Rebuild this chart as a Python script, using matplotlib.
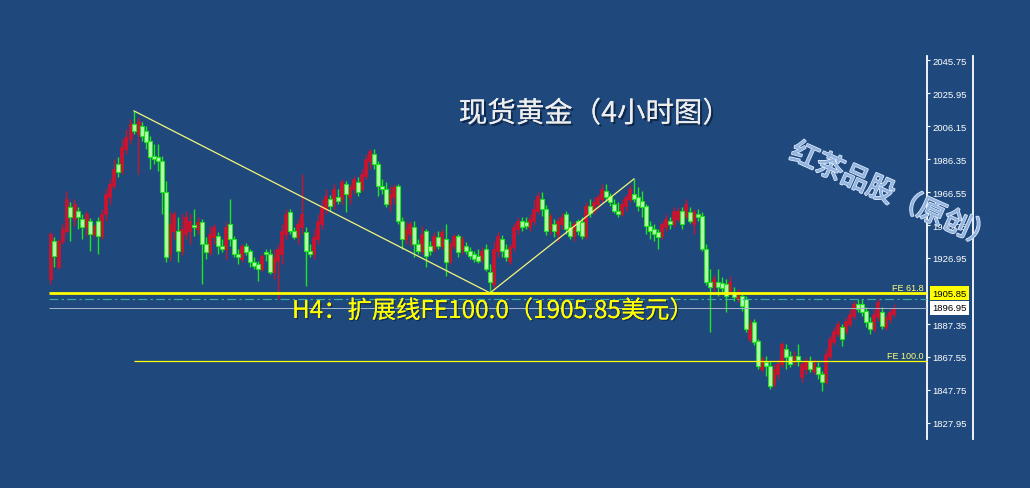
import numpy as np
import matplotlib.pyplot as plt
from matplotlib import patheffects as pe
from matplotlib.lines import Line2D
from matplotlib.transforms import blended_transform_factory

plt.rcParams['font.family'] = ['Noto Sans CJK SC', 'DejaVu Sans']

# 4-hour gold candles (price values)
opens = [
    1914.4, 1937.2, 1921.6, 1937.2, 1943.2, 1957.6, 1950.4, 1955.2, 1950.4, 1945.6,
    1949.2, 1941.4, 1949.2, 1940.2, 1953.4, 1963.6, 1970.2, 1983.4, 1979.2, 1992.4,
    1998.4, 2007.4, 2001.4, 2006.2, 2003.2, 1997.2, 1988.2, 1987.6, 1985.2, 1966.6,
    1929.4, 1943.2, 1943.2, 1931.2, 1941.4, 1943.2, 1946.8, 1944.4, 1948.6, 1935.4,
    1930.6, 1939.6, 1940.2, 1934.2, 1932.4, 1947.4, 1938.4, 1929.4, 1926.4, 1934.2,
    1931.2, 1924.6, 1923.4, 1920.4, 1930.6, 1929.4, 1918.6, 1925.2, 1929.4, 1941.4,
    1954.6, 1943.2, 1939.6, 1945.6, 1942.6, 1931.2, 1929.4, 1938.4, 1947.4, 1956.4,
    1962.4, 1959.4, 1963.6, 1962.4, 1971.4, 1963.6, 1968.4, 1972.6, 1968.4, 1976.2,
    1985.2, 1989.4, 1983.4, 1970.2, 1968.4, 1959.4, 1963.6, 1970.2, 1949.2, 1938.4,
    1941.4, 1945.6, 1935.4, 1931.2, 1943.2, 1934.2, 1932.4, 1939.6, 1934.2, 1938.4,
    1925.2, 1934.2, 1940.2, 1932.4, 1934.2, 1931.2, 1929.4, 1928.2, 1926.4, 1932.4,
    1918.6, 1911.4, 1931.2, 1938.4, 1932.4, 1925.2, 1933.6, 1944.4, 1949.2, 1948.6,
    1945.6, 1949.2, 1955.2, 1962.4, 1956.4, 1944.4, 1947.4, 1941.4, 1947.4, 1953.4,
    1945.6, 1940.2, 1949.2, 1948.6, 1940.2, 1958.2, 1955.2, 1959.4, 1962.4, 1967.2,
    1964.2, 1959.4, 1955.2, 1953.4, 1958.2, 1962.4, 1965.4, 1963.6, 1961.2, 1958.2,
    1946.2, 1944.4, 1942.6, 1940.2, 1945.6, 1949.2, 1947.4, 1950.4, 1955.2, 1952.2,
    1954.6, 1947.4, 1953.4, 1952.2, 1932.4, 1912.6, 1910.2, 1912.6, 1912.0, 1911.4,
    1906.6, 1906.6, 1902.4, 1904.2, 1902.4, 1878.4, 1888.6, 1877.2, 1860.4, 1864.6,
    1862.2, 1851.4, 1857.4, 1863.4, 1872.4, 1868.2, 1865.2, 1868.2, 1855.6, 1860.4,
    1865.2, 1859.2, 1861.6, 1857.4, 1852.6, 1868.2, 1876.6, 1881.4, 1885.6, 1883.2,
    1887.4, 1892.2, 1899.4, 1899.4, 1895.2, 1888.6, 1884.4, 1891.6, 1894.6, 1885.6,
    1890.4, 1893.4,
]
highs = [
    1942.6, 1939.6, 1938.4, 1947.4, 1967.2, 1960.6, 1962.4, 1957.6, 1953.4, 1955.2,
    1951.0, 1947.4, 1951.6, 1956.4, 1968.4, 1974.4, 1986.4, 1987.6, 1998.4, 2004.4,
    2010.4, 2015.2, 2011.6, 2008.6, 2006.2, 2000.2, 1995.4, 1995.4, 1988.2, 1973.2,
    1954.6, 1955.2, 1951.6, 1953.4, 1955.2, 1953.4, 1956.4, 1951.6, 1950.4, 1939.6,
    1946.2, 1947.4, 1942.6, 1938.4, 1948.6, 1962.4, 1940.2, 1932.4, 1935.4, 1936.0,
    1932.4, 1927.6, 1925.2, 1929.4, 1932.4, 1932.4, 1932.4, 1935.4, 1947.4, 1956.4,
    1956.4, 1945.6, 1950.4, 1977.4, 1945.6, 1935.4, 1944.4, 1953.4, 1962.4, 1968.4,
    1964.8, 1971.4, 1968.4, 1974.4, 1973.2, 1971.4, 1976.2, 1975.6, 1980.4, 1989.4,
    1992.4, 1992.4, 1985.2, 1974.4, 1972.6, 1970.2, 1971.4, 1971.4, 1951.6, 1948.6,
    1949.2, 1949.2, 1938.4, 1946.2, 1944.4, 1937.2, 1942.6, 1943.2, 1944.4, 1947.4,
    1937.2, 1941.4, 1941.4, 1940.2, 1936.6, 1933.6, 1931.2, 1932.4, 1933.6, 1935.4,
    1923.4, 1937.2, 1942.6, 1940.8, 1935.4, 1935.4, 1948.0, 1951.6, 1951.6, 1951.6,
    1953.4, 1962.4, 1966.6, 1966.6, 1958.8, 1954.0, 1950.4, 1951.6, 1954.0, 1955.2,
    1949.2, 1949.2, 1950.4, 1951.6, 1960.6, 1962.4, 1963.6, 1965.4, 1971.4, 1971.4,
    1966.0, 1962.4, 1960.6, 1962.4, 1965.4, 1970.8, 1974.4, 1969.6, 1967.2, 1959.4,
    1949.2, 1947.4, 1944.4, 1949.2, 1953.4, 1951.6, 1957.6, 1957.6, 1957.6, 1962.4,
    1957.6, 1956.4, 1956.4, 1954.6, 1935.4, 1920.4, 1916.8, 1920.4, 1915.6, 1914.4,
    1916.2, 1909.6, 1908.4, 1906.6, 1904.2, 1890.4, 1890.4, 1878.4, 1868.2, 1868.2,
    1865.2, 1863.4, 1866.4, 1876.6, 1875.4, 1871.2, 1871.2, 1875.4, 1865.2, 1867.6,
    1868.2, 1866.4, 1864.6, 1859.2, 1872.4, 1880.8, 1885.6, 1889.2, 1887.4, 1891.6,
    1896.4, 1901.2, 1902.4, 1902.4, 1897.6, 1891.6, 1896.4, 1902.4, 1897.6, 1893.4,
    1896.4, 1899.4,
]
lows = [
    1911.4, 1921.6, 1920.4, 1935.4, 1942.0, 1937.2, 1946.2, 1944.4, 1938.4, 1940.2,
    1931.2, 1939.6, 1929.4, 1938.4, 1949.2, 1959.4, 1968.4, 1975.6, 1977.4, 1989.4,
    1995.4, 2001.4, 1977.4, 1997.2, 1992.4, 1980.4, 1983.4, 1979.2, 1953.4, 1924.6,
    1925.2, 1938.4, 1924.6, 1928.8, 1938.4, 1935.4, 1940.2, 1941.4, 1911.4, 1926.4,
    1928.8, 1935.4, 1929.4, 1930.6, 1926.4, 1934.2, 1927.6, 1923.4, 1924.6, 1928.8,
    1921.6, 1920.4, 1913.2, 1919.2, 1925.2, 1917.4, 1914.4, 1902.4, 1923.4, 1938.4,
    1941.4, 1938.4, 1935.4, 1941.4, 1910.2, 1927.6, 1926.4, 1935.4, 1944.4, 1953.4,
    1955.2, 1956.4, 1959.4, 1959.4, 1954.6, 1959.4, 1965.4, 1964.2, 1967.2, 1974.4,
    1980.4, 1980.4, 1964.2, 1965.4, 1957.6, 1955.2, 1959.4, 1947.4, 1932.4, 1935.4,
    1934.2, 1927.6, 1929.4, 1929.4, 1921.6, 1928.8, 1930.6, 1932.4, 1932.4, 1916.2,
    1923.4, 1932.4, 1927.6, 1929.4, 1929.4, 1926.4, 1924.6, 1924.0, 1924.6, 1919.2,
    1906.0, 1908.4, 1927.6, 1927.6, 1925.2, 1923.4, 1931.2, 1941.4, 1943.2, 1944.4,
    1943.2, 1946.8, 1953.4, 1952.2, 1940.8, 1941.4, 1939.6, 1937.2, 1944.4, 1941.4,
    1938.4, 1937.2, 1940.8, 1938.4, 1938.4, 1951.6, 1953.4, 1956.4, 1960.6, 1961.2,
    1958.2, 1954.0, 1951.6, 1952.2, 1955.2, 1960.6, 1960.6, 1955.2, 1951.6, 1941.4,
    1938.4, 1937.2, 1932.4, 1938.4, 1943.2, 1944.4, 1945.6, 1948.6, 1944.4, 1950.4,
    1948.0, 1941.4, 1949.2, 1931.2, 1910.8, 1882.6, 1907.2, 1904.2, 1906.6, 1894.6,
    1904.8, 1901.2, 1900.6, 1895.2, 1882.6, 1876.6, 1874.8, 1860.4, 1858.6, 1856.2,
    1848.4, 1849.6, 1854.4, 1861.6, 1860.4, 1861.6, 1862.8, 1862.2, 1852.6, 1857.4,
    1858.6, 1857.4, 1854.4, 1847.2, 1851.4, 1866.4, 1874.8, 1879.6, 1874.2, 1881.4,
    1885.6, 1890.4, 1894.6, 1892.2, 1885.6, 1881.4, 1882.6, 1889.2, 1884.4, 1883.8,
    1888.0, 1891.6,
]
closes = [
    1941.4, 1928.2, 1937.2, 1944.4, 1962.4, 1951.6, 1959.4, 1951.6, 1945.6, 1953.4,
    1941.4, 1946.2, 1940.2, 1953.4, 1965.4, 1971.4, 1980.4, 1978.6, 1993.6, 1999.6,
    2007.4, 2003.2, 2009.2, 2000.2, 1996.6, 1987.6, 1986.4, 1985.2, 1966.6, 1927.6,
    1947.4, 1953.4, 1931.2, 1944.4, 1951.6, 1949.2, 1945.6, 1948.6, 1935.4, 1930.6,
    1941.4, 1945.6, 1934.2, 1932.4, 1945.6, 1938.4, 1929.4, 1927.6, 1934.2, 1930.6,
    1924.6, 1922.2, 1920.4, 1928.2, 1929.4, 1918.6, 1927.6, 1932.4, 1943.2, 1953.4,
    1943.2, 1939.6, 1947.4, 1953.4, 1931.2, 1929.4, 1939.6, 1949.2, 1958.2, 1964.2,
    1958.2, 1968.4, 1961.2, 1972.6, 1965.4, 1969.6, 1974.4, 1966.6, 1977.4, 1986.4,
    1991.2, 1983.4, 1970.2, 1968.4, 1959.4, 1965.4, 1969.6, 1949.2, 1938.4, 1944.4,
    1947.4, 1935.4, 1931.2, 1941.4, 1928.2, 1931.2, 1940.2, 1934.2, 1942.6, 1924.6,
    1935.4, 1940.2, 1930.6, 1938.4, 1931.2, 1928.2, 1926.4, 1925.2, 1931.2, 1920.4,
    1912.6, 1932.4, 1940.2, 1931.2, 1927.6, 1933.6, 1945.6, 1949.2, 1945.6, 1946.2,
    1950.4, 1956.4, 1964.2, 1956.4, 1943.2, 1952.2, 1943.2, 1949.2, 1951.6, 1944.4,
    1940.2, 1947.4, 1943.2, 1940.2, 1958.2, 1954.0, 1960.6, 1963.6, 1968.4, 1963.6,
    1960.6, 1955.2, 1953.4, 1959.4, 1963.6, 1968.4, 1962.4, 1958.2, 1957.6, 1946.2,
    1943.2, 1941.4, 1939.6, 1947.4, 1950.4, 1947.4, 1955.2, 1955.2, 1947.4, 1959.4,
    1949.2, 1954.6, 1951.6, 1932.4, 1912.6, 1909.6, 1914.4, 1909.6, 1909.0, 1904.2,
    1912.6, 1903.6, 1906.6, 1898.2, 1884.4, 1887.4, 1876.6, 1862.2, 1866.4, 1862.2,
    1850.2, 1860.4, 1863.4, 1875.4, 1867.6, 1863.4, 1868.2, 1865.8, 1863.4, 1864.6,
    1860.4, 1864.0, 1857.4, 1852.6, 1869.4, 1878.4, 1883.2, 1887.4, 1878.4, 1889.2,
    1893.4, 1899.4, 1896.4, 1894.6, 1888.6, 1884.4, 1893.4, 1900.6, 1886.2, 1891.6,
    1894.6, 1897.0,
]

# levels and axis labels
fe618_level = 1905.85
fe100_level = 1864.9
dash_level = 1902.5
bid_price = 1896.95
tick_values = [2045.75, 2025.95, 2006.15, 1986.35, 1966.55, 1946.75, 1926.95,
               1887.35, 1867.55, 1847.75, 1827.95]
swing_a, swing_b, swing_c = 21, 110, 146

title = '现货黄金（4小时图）'
watermark = '红茶品股（原创）'
note = 'H4：扩展线FE100.0（1905.85美元）'

bg = '#1f497d'
red = '#c8142e'
green = '#1ee61e'
green_fill = '#b9f7b0'
yellow = '#ffff00'

W, H = 1030, 489
fig = plt.figure(figsize=(W / 100, H / 100), dpi=100, facecolor=bg)
ax = fig.add_axes([47 / W, 49 / H, 880 / W, 383 / H])
ax.set_facecolor(bg)

o = np.array(opens)
hi = np.array(highs)
lo = np.array(lows)
c = np.array(closes)
x = np.arange(len(c))
up = c >= o
dn = ~up

ax.vlines(x[up], lo[up], hi[up], color=red, lw=1.0, zorder=2)
ax.vlines(x[dn], lo[dn], hi[dn], color=green, lw=1.0, zorder=2)
ax.bar(x[up], c[up] - o[up], bottom=o[up], width=0.75, color=red,
       edgecolor=red, lw=0.6, zorder=3)
ax.bar(x[dn], np.maximum(o[dn] - c[dn], 0.5), bottom=c[dn], width=0.8,
       color=green_fill, edgecolor=green, lw=0.8, zorder=3)

# swing lines
ax.plot([swing_a, swing_b], [hi[swing_a], lo[swing_b]], color='#f5f57a', lw=0.9, zorder=4)
ax.plot([swing_b, swing_c], [lo[swing_b], hi[swing_c]], color='#f5f57a', lw=0.9, zorder=4)

xmax = 219.25
ax.hlines(fe618_level, -0.3, xmax, color=yellow, lw=2.0, zorder=5)
ax.hlines(fe100_level, swing_a, xmax, color=yellow, lw=0.9, zorder=5)
ax.hlines(dash_level, -0.3, xmax, color='#3fae9c', lw=0.8,
          linestyles=[(0, (8, 3, 2, 3))], zorder=5)
ax.hlines(bid_price, -0.3, xmax, color='#a9b6cc', lw=0.7, zorder=5)

ax.text(218.5, fe618_level + 0.8, 'FE 61.8', color='#ffff70', fontsize=6.5,
        ha='right', va='bottom', family='Liberation Sans', zorder=6)
ax.text(218.5, fe100_level + 0.8, 'FE 100.0', color='#ffff70', fontsize=6.5,
        ha='right', va='bottom', family='Liberation Sans', zorder=6)

ax.set_xlim(-0.75, xmax)
ax.set_ylim(1818.35, 2048.15)
for s in ['left', 'top', 'bottom']:
    ax.spines[s].set_visible(False)
ax.spines['right'].set_color('white')
ax.spines['right'].set_linewidth(1.3)
ax.set_xticks([])
ax.yaxis.tick_right()
ax.set_yticks(tick_values)
ax.set_yticklabels([f'{v:.2f}' for v in tick_values])
ax.tick_params(axis='y', colors='white', length=2.5, width=0.8, pad=1.5, labelsize=6.8)
for lab in ax.get_yticklabels():
    lab.set_fontfamily('Liberation Sans')

trans = blended_transform_factory(ax.transAxes, ax.transData)
ax.text(1.0058, fe618_level, f'{fe618_level:.2f}', transform=trans, ha='left', va='center',
        fontsize=6.8, family='Liberation Sans', color='black', clip_on=False,
        bbox=dict(facecolor=yellow, edgecolor='none', pad=1.8))
ax.text(1.0058, bid_price, f'{bid_price:.2f}', transform=trans, ha='left', va='center',
        fontsize=6.8, family='Liberation Sans', color='black', clip_on=False,
        bbox=dict(facecolor='white', edgecolor='none', pad=1.8))

fig.add_artist(Line2D([973 / W, 973 / W], [49 / H, 432 / H], color='white', lw=1.3))

fig.text(595 / W, 1 - 115 / H, title, ha='center', va='center', fontsize=20.5,
         color='#eeeeee',
         path_effects=[pe.withSimplePatchShadow(offset=(1.5, -1.5), shadow_rgbFace='#0b1f3d',
                                                alpha=0.8), pe.Normal()])
fig.text(893 / W, 1 - 197 / H, watermark, ha='center', va='center', fontsize=20,
         rotation=-24, color='#94b4e0',
         path_effects=[pe.withStroke(linewidth=1.4, foreground='#dbe8fa'), pe.Normal()])
fig.text(292 / W, 1 - 312 / H, note, ha='left', va='center', fontsize=17.5, color=yellow,
         path_effects=[pe.withSimplePatchShadow(offset=(1, -1), shadow_rgbFace='#10233f',
                                                alpha=0.7), pe.Normal()])

fig.savefig('out.png', dpi=100, facecolor=bg)
